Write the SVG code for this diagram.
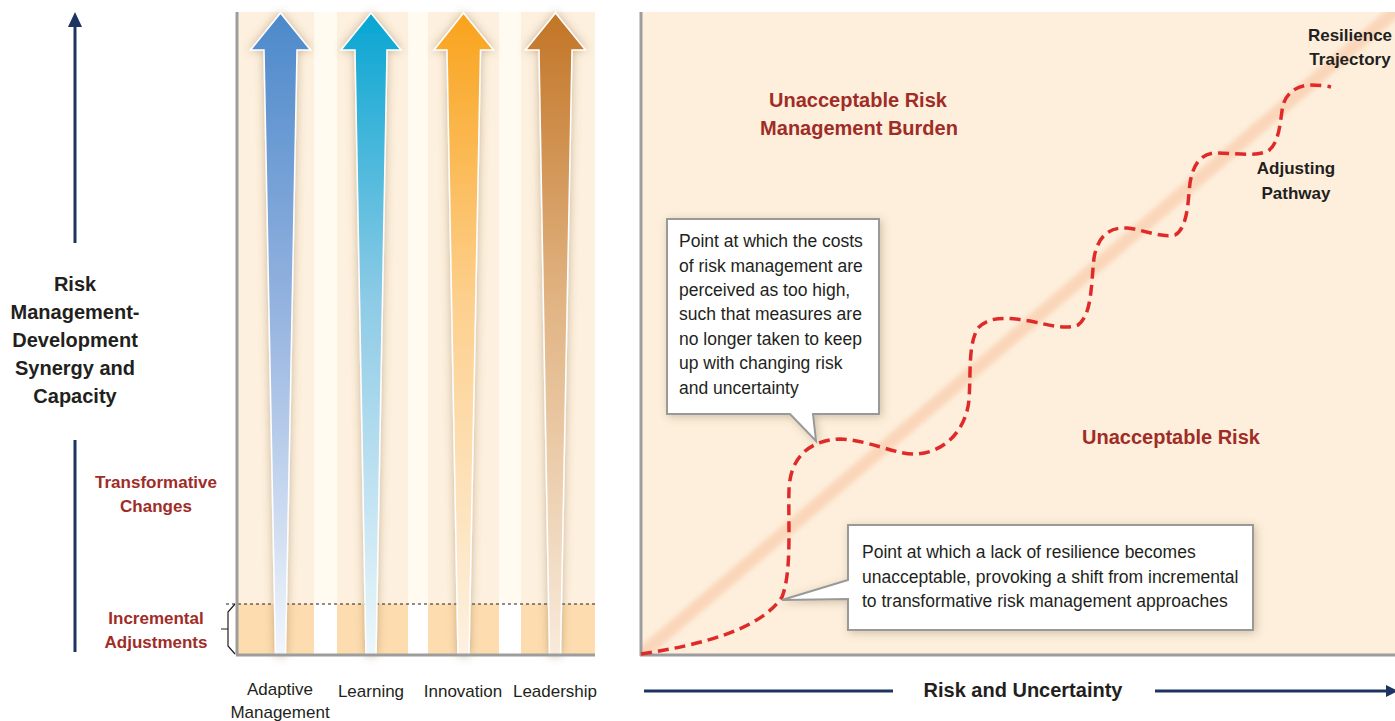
<svg xmlns="http://www.w3.org/2000/svg" width="1395" height="721" viewBox="0 0 1395 721">
<defs>
<style>
.lbl{font-family:"Liberation Sans",Arial,sans-serif;font-weight:bold;fill:#231F20}
.red{font-family:"Liberation Sans",Arial,sans-serif;font-weight:bold;fill:#A02C27}
.reg{font-family:"Liberation Sans",Arial,sans-serif;fill:#231F20;font-size:17px}
.call{font-family:"Liberation Sans",Arial,sans-serif;fill:#231F20;font-size:17.5px}
.axisg{stroke:#9D9D9D;stroke-width:3;fill:none}
.navy{stroke:#1B3461;stroke-width:3;fill:none}
.box{fill:#FFFFFF;stroke:#999999;stroke-width:2}
.arr{stroke:#FFFFFF;stroke-width:1.5}
</style>
<linearGradient id="gBlue" x1="0" y1="13" x2="0" y2="655" gradientUnits="userSpaceOnUse">
<stop offset="0" stop-color="#4C89CA"/><stop offset="0.45" stop-color="#93B2DF"/><stop offset="1" stop-color="#F2F6FC"/></linearGradient>
<linearGradient id="gCyan" x1="0" y1="13" x2="0" y2="655" gradientUnits="userSpaceOnUse">
<stop offset="0" stop-color="#08A5D2"/><stop offset="0.45" stop-color="#8ECBE6"/><stop offset="1" stop-color="#ECF7FB"/></linearGradient>
<linearGradient id="gOrange" x1="0" y1="13" x2="0" y2="655" gradientUnits="userSpaceOnUse">
<stop offset="0" stop-color="#F9A31C"/><stop offset="0.45" stop-color="#FDD08E"/><stop offset="1" stop-color="#FDF1E0"/></linearGradient>
<linearGradient id="gBrown" x1="0" y1="13" x2="0" y2="655" gradientUnits="userSpaceOnUse">
<stop offset="0" stop-color="#C27526"/><stop offset="0.45" stop-color="#E1B483"/><stop offset="1" stop-color="#F8EADB"/></linearGradient>
<filter id="shArrow" x="-50%" y="-10%" width="200%" height="120%">
<feDropShadow dx="0" dy="0" stdDeviation="5" flood-color="#7A5A30" flood-opacity="0.4"/>
</filter>
<filter id="shBox" x="-20%" y="-20%" width="140%" height="140%">
<feDropShadow dx="2" dy="2" stdDeviation="4" flood-color="#6A5030" flood-opacity="0.3"/>
</filter>
<filter id="blurBand" x="-10%" y="-10%" width="120%" height="120%">
<feGaussianBlur stdDeviation="2.5"/>
</filter>
<clipPath id="clipR"><rect x="642" y="12" width="753" height="642"/></clipPath>
</defs>

<rect x="0" y="0" width="1395" height="721" fill="#FFFFFF"/>

<g id="left-axis">
<line class="navy" x1="75" y1="24" x2="75" y2="243"/>
<polygon points="75,12 68,27 82,27" fill="#1B3461"/>
<line class="navy" x1="75" y1="440" x2="75" y2="652"/>
<text class="lbl" font-size="20" text-anchor="middle"><tspan x="75" y="291">Risk</tspan><tspan x="75" y="319">Management-</tspan><tspan x="75" y="347">Development</tspan><tspan x="75" y="375">Synergy and</tspan><tspan x="75" y="403">Capacity</tspan></text>
</g>

<g id="label-transformative">
<text class="red" font-size="17" text-anchor="middle"><tspan x="156" y="488">Transformative</tspan><tspan x="156" y="512">Changes</tspan></text>
</g>
<g id="label-incremental">
<text class="red" font-size="17" text-anchor="middle"><tspan x="156" y="624">Incremental</tspan><tspan x="156" y="648">Adjustments</tspan></text>
<path d="M235,604 L228,612 L228,646 L235,654 M221,629 L228,629" stroke="#231F20" stroke-width="1.2" fill="none"/>
</g>

<g id="left-panel">
<rect x="238" y="12" width="357" height="592" fill="#FFFBF0"/>
<rect x="238" y="12" width="76" height="592" fill="#FDF0DE"/>
<rect x="337" y="12" width="71" height="592" fill="#FDF0DE"/>
<rect x="428" y="12" width="71" height="592" fill="#FDF0DE"/>
<rect x="521" y="12" width="74" height="592" fill="#FDF0DE"/>
<rect x="238" y="604" width="76" height="51" fill="#FDDDB0"/>
<rect x="337" y="604" width="71" height="51" fill="#FDDDB0"/>
<rect x="428" y="604" width="71" height="51" fill="#FDDDB0"/>
<rect x="521" y="604" width="74" height="51" fill="#FDDDB0"/>
<line x1="226" y1="604" x2="595" y2="604" stroke="#231F20" stroke-width="1.2" stroke-dasharray="3,3"/>
</g>

<g id="arrow-adaptive">
<polygon class="arr" filter="url(#shArrow)" fill="url(#gBlue)" points="280.5,13 310.5,50 297,50 285.5,655 275.5,655 264,50 250.5,50"/>
<text class="reg" text-anchor="middle"><tspan x="280" y="695">Adaptive</tspan><tspan x="280" y="718">Management</tspan></text>
</g>
<g id="arrow-learning">
<polygon class="arr" filter="url(#shArrow)" fill="url(#gCyan)" points="371,13 401,50 387,50 376,655 366,655 355,50 341,50"/>
<text class="reg" text-anchor="middle" x="371" y="697">Learning</text>
</g>
<g id="arrow-innovation">
<polygon class="arr" filter="url(#shArrow)" fill="url(#gOrange)" points="463.5,13 493.5,50 480.5,50 469,655 458,655 447,50 434,50"/>
<text class="reg" text-anchor="middle" x="463" y="697">Innovation</text>
</g>
<g id="arrow-leadership">
<polygon class="arr" filter="url(#shArrow)" fill="url(#gBrown)" points="555.5,13 585.5,50 572,50 560.5,655 549.5,655 539,50 525.5,50"/>
<text class="reg" text-anchor="middle" x="555" y="697">Leadership</text>
</g>

<g id="left-frame">
<line class="axisg" x1="237" y1="12" x2="237" y2="655"/>
<line class="axisg" x1="236" y1="655" x2="595" y2="655" stroke-width="2.5"/>
</g>

<g id="right-panel">
<rect x="642" y="12" width="753" height="642" fill="#FDEFDC"/>
<g clip-path="url(#clipR)">
<line x1="630" y1="664" x2="1405" y2="3" stroke="#F8C4A2" stroke-width="13" stroke-opacity="0.6" filter="url(#blurBand)"/>
</g>
<line class="axisg" x1="641" y1="12" x2="641" y2="656"/>
<line class="axisg" x1="640" y1="655" x2="1395" y2="655" stroke-width="2.5"/>
</g>

<g id="region-burden">
<text class="red" font-size="20" text-anchor="middle"><tspan x="858" y="107">Unacceptable Risk</tspan><tspan x="859" y="135">Management Burden</tspan></text>
</g>
<g id="region-risk">
<text class="red" font-size="20" text-anchor="middle" x="1171" y="444">Unacceptable Risk</text>
</g>
<g id="label-resilience">
<text class="lbl" font-size="17" text-anchor="middle"><tspan x="1350" y="41">Resilience</tspan><tspan x="1350" y="65">Trajectory</tspan></text>
</g>
<g id="label-adjusting">
<text class="lbl" font-size="17" text-anchor="middle"><tspan x="1296" y="174">Adjusting</tspan><tspan x="1296" y="199">Pathway</tspan></text>
</g>

<g id="connectors">
<path d="M641,654 C700,645 760,630 782,597 C792,572 788,522 789,490 C790,455 812,440 840,439 C870,440 895,455 917,454 C945,452 966,430 969,400 C971,370 968,345 978,328 C990,315 1010,318 1030,321 C1050,325 1065,330 1078,325 C1092,315 1091,285 1094,258 C1098,235 1110,227 1127,228 C1145,230 1160,238 1175,235 C1188,228 1188,200 1190,183 C1193,165 1200,154 1215,153 C1235,153 1255,157 1268,151 C1280,143 1280,120 1283,105 C1287,92 1297,86 1310,85 C1320,85 1326,86 1331,87" fill="none" stroke="#E02A2A" stroke-width="3.5" stroke-dasharray="11,6"/>
</g>

<g id="callout-costs">
<path class="box" filter="url(#shBox)" d="M667,219 L879,219 L879,414 L813,414 L816,441 L790,414 L667,414 Z"/>
<text class="call"><tspan x="679" y="247">Point at which the costs</tspan><tspan x="679" y="272">of risk management are</tspan><tspan x="679" y="296">perceived as too high,</tspan><tspan x="679" y="320">such that measures are</tspan><tspan x="679" y="345">no longer taken to keep</tspan><tspan x="679" y="369">up with changing risk</tspan><tspan x="679" y="394">and uncertainty</tspan></text>
</g>

<g id="callout-resilience">
<path class="box" filter="url(#shBox)" d="M848,525 L1253,525 L1253,630 L848,630 L848,599 L782,600 L848,580 Z"/>
<text class="call"><tspan x="862" y="558">Point at which a lack of resilience becomes</tspan><tspan x="862" y="583">unacceptable, provoking a shift from incremental</tspan><tspan x="862" y="607">to transformative risk management approaches</tspan></text>
</g>

<g id="x-axis">
<line class="navy" x1="644" y1="691" x2="893" y2="691"/>
<line class="navy" x1="1155" y1="691" x2="1390" y2="691"/>
<polygon points="1386,685 1398,691 1386,697" fill="#1B3461"/>
<text class="lbl" font-size="20" text-anchor="middle" x="1023" y="697">Risk and Uncertainty</text>
</g>
</svg>
